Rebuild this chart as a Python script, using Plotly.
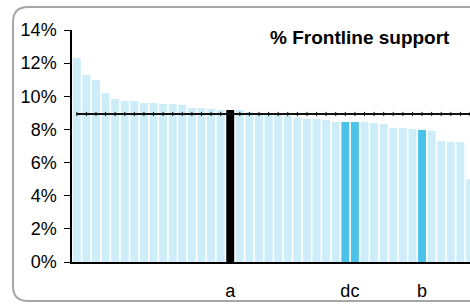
import plotly.graph_objects as go

# ---- data ----
values = [12.31, 11.29, 10.98, 10.20, 9.84, 9.72, 9.72, 9.60, 9.60, 9.54,
          9.54, 9.47, 9.29, 9.29, 9.23, 9.17, 9.17, 9.17, 9.05, 8.93,
          8.87, 8.87, 8.81, 8.69, 8.63, 8.63, 8.57, 8.45, 8.45, 8.45,
          8.45, 8.39, 8.33, 8.09, 8.09, 8.03, 7.97, 7.91, 7.30, 7.24,
          7.24, 4.99]
label_pos = [16, 28, 29, 36]
label_text = ["a", "d", "c", "b"]
highlight = {16: "black", 28: "blue", 29: "blue", 36: "blue"}
average = 8.93
title_text = "% Frontline support"
y_ticks = [0, 2, 4, 6, 8, 10, 12, 14]

LIGHT = "#CDEDF8"
BLUE = "#4BC2EA"
BLACK = "#000000"

xs = list(range(len(values)))
colors = []
for i in xs:
    h = highlight.get(i)
    colors.append(BLACK if h == "black" else BLUE if h == "blue" else LIGHT)

FONT = "Arial, Liberation Sans, sans-serif"

fig = go.Figure()
fig.add_trace(go.Bar(x=xs, y=values, marker=dict(color=colors, line=dict(width=0)),
                     showlegend=False, hoverinfo="skip"))
fig.add_trace(go.Scatter(x=xs, y=[average] * len(xs), mode="lines+markers",
                         line=dict(color="#111111", width=2),
                         marker=dict(symbol="line-ns-open", size=3,
                                     line=dict(color="#777777", width=1)),
                         showlegend=False, hoverinfo="skip"))

W, H = 470, 305
L, R, T, B = 72, 0, 30, 43
pw, ph = W - L - R, H - T - B


def px(x):
    return (x - L) / pw


def py(y):
    return (H - B - y) / ph


# rounded frame (right side runs off the page)
x0, y0, x1, y1, r = 13, 7, 485, 301, 15
path = (f"M {px(x1)},{py(y0)} L {px(x0 + r)},{py(y0)} "
        f"Q {px(x0)},{py(y0)} {px(x0)},{py(y0 + r)} "
        f"L {px(x0)},{py(y1 - r)} "
        f"Q {px(x0)},{py(y1)} {px(x0 + r)},{py(y1)} "
        f"L {px(x1)},{py(y1)}")
fig.add_shape(type="path", path=path, xref="paper", yref="paper",
              line=dict(color="#A6A6A6", width=2), layer="below")

fig.add_annotation(text="<b>" + title_text + "</b>", x=px(360), y=py(38),
                   xref="paper", yref="paper", showarrow=False,
                   font=dict(family=FONT, size=19, color="#000000"),
                   xanchor="center", yanchor="middle")

fig.update_layout(
    width=W, height=H,
    margin=dict(l=L, r=R, t=T, b=B, pad=0, autoexpand=False),
    paper_bgcolor="white", plot_bgcolor="white",
    bargap=0.17,
    font=dict(family=FONT, size=18, color="#000000"),
    xaxis=dict(range=[-0.5, 41.0], tickmode="array", tickvals=label_pos,
               ticktext=label_text, automargin=False, tickangle=0,
               showgrid=False, zeroline=False, showline=True, linecolor="black",
               linewidth=1.5, ticks="outside", ticklen=12,
               tickcolor="rgba(0,0,0,0)",
               tickfont=dict(family=FONT, size=18, color="#000000"), fixedrange=True),
    yaxis=dict(range=[0, 14], tickmode="array", tickvals=y_ticks,
               ticktext=[f"{v}%" for v in y_ticks], automargin=False,
               showgrid=False, zeroline=False, showline=True, linecolor="black",
               linewidth=1.5, ticks="outside", ticklen=6, tickcolor="black",
               ticklabelstandoff=4,
               tickfont=dict(family=FONT, size=18, color="#000000"), fixedrange=True),
)

fig.write_html("out.html", config={"displayModeBar": False},
               post_script="document.body.style.margin='0';"
                           "document.body.style.overflow='hidden';")
